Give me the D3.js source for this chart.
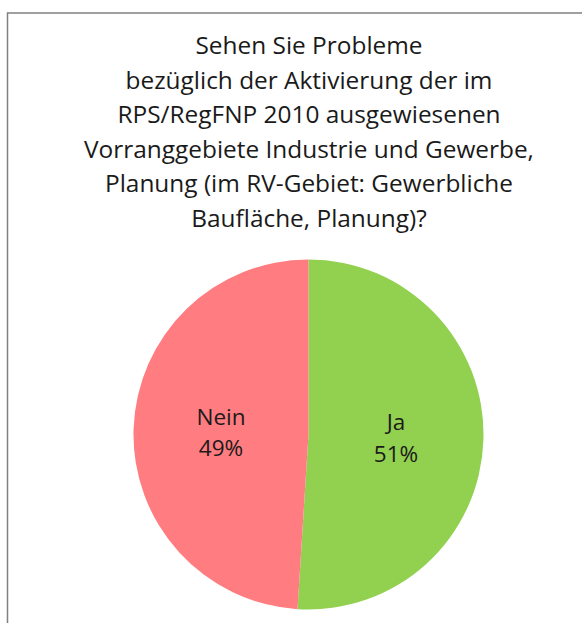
<!DOCTYPE html>
<html><head><meta charset="utf-8">
<script src="https://cdn.jsdelivr.net/npm/d3@7"></script>
<style>html,body{margin:0;padding:0;background:#fff;overflow:hidden}</style>
</head><body>
<svg id="c" width="582" height="623"></svg>
<script>
const titleLines = ["Sehen Sie Probleme","bezüglich der Aktivierung der im","RPS/RegFNP 2010 ausgewiesenen","Vorranggebiete Industrie und Gewerbe,","Planung (im RV-Gebiet: Gewerbliche","Baufläche, Planung)?"];
const categories = ["Ja","Nein"];
const values = [51,49];
const colors = ["#92D050","#FF7C80"];

const svg = d3.select("#c");
const font = "'Open Sans', Lato, sans-serif";
svg.append("rect").attr("x",7.5).attr("y",13).attr("width",600).attr("height",700)
  .attr("fill","#fff").attr("stroke","#808080").attr("stroke-width",1.5);

const t = svg.append("g").attr("font-family",font).attr("font-size",20).attr("fill","#1a1a1a").attr("text-anchor","middle");
const texts = titleLines.map((l,i)=>t.append("text").attr("x",309).attr("y",54+34.5*i).text(l));
const w = texts[3].node().getComputedTextLength();
t.attr("font-size", 20*450/w);

const cx=308.5, cy=434.5, r=175;
const pie = d3.pie().sort(null).value(d=>d);
const arcs = pie(values);
const arc = d3.arc().innerRadius(0).outerRadius(r);
const lab = d3.arc().innerRadius(r*0.5).outerRadius(r*0.5);
const g = svg.append("g").attr("transform",`translate(${cx},${cy})`);
g.selectAll("path").data(arcs).join("path").attr("d",arc).attr("fill",(d,i)=>colors[i]);
const lg = g.selectAll("g.l").data(arcs).join("g").attr("class","l")
  .attr("transform",d=>{const c=lab.centroid(d);return `translate(${c[0]},${c[1]})`;});
lg.append("text").attr("text-anchor","middle").attr("font-family",font).attr("font-size",22.5).attr("fill","#1a1a1a")
  .attr("y",-7).text((d,i)=>categories[i]);
lg.append("text").attr("text-anchor","middle").attr("font-family",font).attr("font-size",22.5).attr("fill","#1a1a1a")
  .attr("y",24.5).text((d,i)=>values[i]+"%");
</script>
</body></html>
